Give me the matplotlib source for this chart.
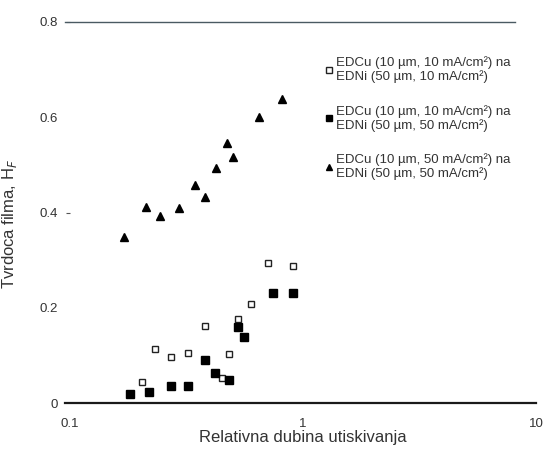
import matplotlib
matplotlib.use("Agg")
import matplotlib.pyplot as plt
from matplotlib.lines import Line2D

plt.rcParams['font.family'] = ['Liberation Sans', 'DejaVu Sans']

# relative indentation depth (x) and film hardness (y)
tri_x = [0.171, 0.212, 0.243, 0.294, 0.344, 0.380, 0.423, 0.472, 0.501, 0.649, 0.810]
tri_y = [0.349, 0.412, 0.393, 0.409, 0.458, 0.433, 0.493, 0.546, 0.517, 0.600, 0.638]

fsq_x = [0.181, 0.219, 0.271, 0.321, 0.378, 0.420, 0.483, 0.525, 0.560, 0.741, 0.903]
fsq_y = [0.019, 0.024, 0.036, 0.036, 0.090, 0.062, 0.048, 0.160, 0.139, 0.232, 0.230]

osq_x = [0.203, 0.232, 0.271, 0.321, 0.378, 0.449, 0.483, 0.528, 0.596, 0.705, 0.903]
osq_y = [0.045, 0.113, 0.096, 0.104, 0.162, 0.053, 0.102, 0.176, 0.207, 0.295, 0.288]

labels = [
    "EDCu (10 \u00b5m, 10 mA/cm\u00b2) na\nEDNi (50 \u00b5m, 10 mA/cm\u00b2)",
    "EDCu (10 \u00b5m, 10 mA/cm\u00b2) na\nEDNi (50 \u00b5m, 50 mA/cm\u00b2)",
    "EDCu (10 \u00b5m, 50 mA/cm\u00b2) na\nEDNi (50 \u00b5m, 50 mA/cm\u00b2)",
]
y_ticks = [0, 0.2, 0.4, 0.6, 0.8]
y_ticklabels = ["0", "0.2", "0.4", "0.6", "0.8"]
x_ticks = [0.1, 1, 10]
x_ticklabels = ["0.1", "1", "10"]

txt = "#333333"

fig = plt.figure(figsize=(5.44, 4.53), dpi=100)
ax = fig.add_axes([70 / 544, 50 / 453, 466 / 544, 381 / 453])

ax.plot(osq_x, osq_y, ls="none", marker="s", ms=4.8, mfc="white", mec="#222222", mew=1.0)
ax.plot(fsq_x, fsq_y, ls="none", marker="s", ms=5.5, color="black")
ax.plot(tri_x, tri_y, ls="none", marker="^", ms=5.5, color="black")

ax.set_xscale("log")
ax.set_xlim(0.1, 10)
ax.set_ylim(0, 0.8)

for s in ax.spines.values():
    s.set_visible(False)
ax.axhline(0, xmin=-0.01, xmax=1.0, color="#1a1a1a", lw=1.6, clip_on=False)
ax.axhline(0.8, xmin=-0.01, xmax=0.955, color="#4a5a62", lw=1.0, clip_on=False)

ax.set_yticks(y_ticks)
ax.set_yticklabels(y_ticklabels, fontsize=9.5, color=txt)
ax.set_xticks(x_ticks)
ax.set_xticklabels(x_ticklabels, fontsize=9.5, color=txt)
ax.minorticks_off()
ax.tick_params(axis="y", length=3, width=0.8, pad=6, color="#555555")
ax.tick_params(axis="x", length=0, pad=11)
for i, t in enumerate(ax.yaxis.get_major_ticks()):
    if i in (0, 1, 3):
        t.tick1line.set_visible(False)

ax.set_xlabel("Relativna dubina utiskivanja", fontsize=12, color=txt, labelpad=0)
ax.set_ylabel("Tvrdoca filma, H$_F$", fontsize=12, color=txt)
ax.yaxis.set_label_coords(-0.11, 0.47)

handles = [
    Line2D([], [], ls="none", marker="s", ms=4.5, mfc="white", mec="#222222", mew=1.0),
    Line2D([], [], ls="none", marker="s", ms=4.5, color="black"),
    Line2D([], [], ls="none", marker="^", ms=5, color="black"),
]
leg = ax.legend(handles, labels, loc="upper left", bbox_to_anchor=(319 / 544, 1 - 50 / 453),
                bbox_transform=fig.transFigure, frameon=False, fontsize=9.5,
                handlelength=0.5, handletextpad=0.3, labelspacing=1.65, borderpad=0)
for t in leg.get_texts():
    t.set_color(txt)
    t.set_linespacing(1.1)

fig.savefig("out.png", dpi=100)
